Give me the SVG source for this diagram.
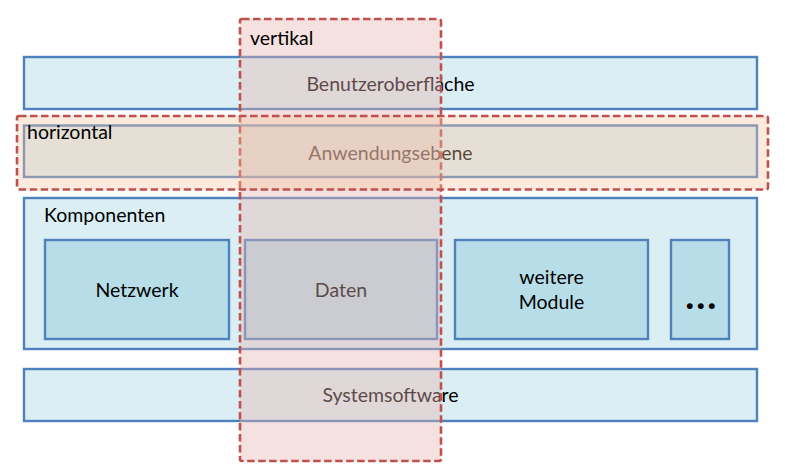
<svg xmlns="http://www.w3.org/2000/svg" width="785" height="473" viewBox="0 0 785 473">
<style>
.layer{fill:#dbeef4;stroke:#4f81bd;stroke-width:2.4}
.mod{fill:#b7dde8;stroke:#4f81bd;stroke-width:2.4}
text{font-family:Lato,"Liberation Sans",sans-serif;font-size:19.5px;fill:#000}
.c{text-anchor:middle}
.dash{stroke:#c0504d;stroke-width:2.6;stroke-dasharray:7.5 3.5}
</style>
<g id="benutzeroberflaeche">
<rect class="layer" x="24" y="57" width="733" height="52"/>
<text class="c" x="390.5" y="91">Benutzeroberfläche</text>
</g>
<g id="anwendungsebene">
<rect class="layer" x="24" y="125.5" width="733" height="51.5"/>
<text class="c" x="390.5" y="160">Anwendungsebene</text>
</g>
<g id="komponenten">
<rect class="layer" x="24" y="198" width="733" height="151"/>
<text x="44" y="222">Komponenten</text>
</g>
<g id="netzwerk">
<rect class="mod" x="45" y="240" width="184" height="99"/>
<text class="c" x="137" y="297">Netzwerk</text>
</g>
<g id="daten">
<rect class="mod" x="245" y="240" width="192" height="99"/>
<text class="c" x="341" y="297">Daten</text>
</g>
<g id="weitere-module">
<rect class="mod" x="455" y="240" width="193" height="99"/>
<text class="c" x="551.5" y="284">weitere</text>
<text class="c" x="551.5" y="309">Module</text>
</g>
<g id="mehr">
<rect class="mod" x="671" y="240" width="58" height="99"/>
<text class="c" x="702" y="309" style="font-size:36px;font-weight:900;letter-spacing:2.5px">...</text>
</g>
<g id="systemsoftware">
<rect class="layer" x="24" y="369" width="733" height="52"/>
<text class="c" x="390.5" y="402">Systemsoftware</text>
</g>
<g id="vertikal">
<rect class="dash" x="240" y="19" width="201" height="442" rx="2" fill="rgb(230,180,175)" fill-opacity="0.4"/>
</g>
<g id="horizontal">
<rect class="dash" x="17" y="116" width="751" height="73.5" rx="2" fill="rgb(248,198,160)" fill-opacity="0.36"/>
</g>
<g id="labels">
<text x="250" y="45">vertikal</text>
<text x="27" y="139">horizontal</text>
</g>
<g id="connectors"></g>
</svg>
